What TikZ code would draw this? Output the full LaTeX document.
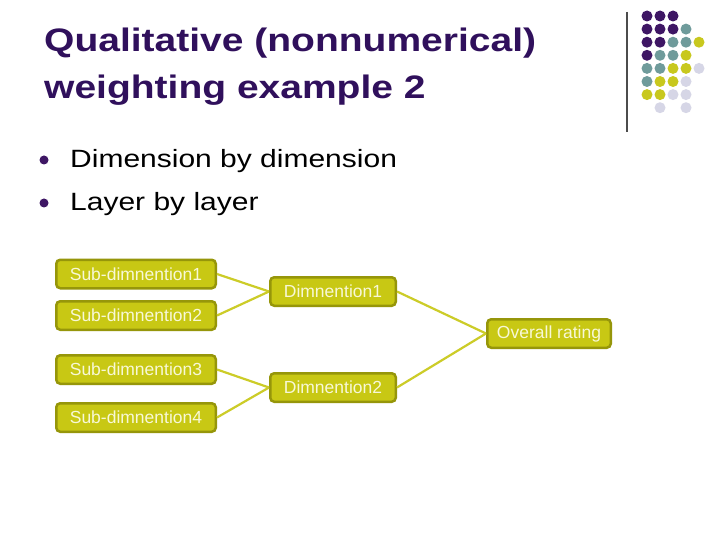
\documentclass[tikz,border=0pt]{standalone}
\usepackage{fontspec}
\setmainfont{Liberation Sans}
\newfontfamily\widefont{Liberation Sans}[FakeStretch=1.2]
\definecolor{ttlpurple}{RGB}{48,16,92}
\definecolor{dpurple}{RGB}{62,22,100}
\definecolor{dteal}{RGB}{111,155,155}
\definecolor{dyellow}{RGB}{200,200,30}
\definecolor{dlav}{RGB}{214,214,230}
\definecolor{boxfill}{RGB}{200,200,20}
\definecolor{boxedge}{RGB}{150,150,10}
\definecolor{boxtext}{RGB}{248,248,215}
\definecolor{linkcol}{RGB}{204,204,40}
\begin{document}
\begin{tikzpicture}[x=1pt,y=-1pt,
  box/.style={draw=boxedge, fill=boxfill, line width=2.5pt, rounded corners=4pt,
    inner sep=0pt, minimum height=28.5pt, text=boxtext,
    font=\fontsize{17.5}{18}\selectfont},
  subbox/.style={box, minimum width=159.5pt},
  dimbox/.style={box, minimum width=125.5pt},
  ovbox/.style={box, minimum width=123.5pt},
  link/.style={draw=linkcol, line width=2.2pt},
  gdot/.style={circle, inner sep=0pt, minimum size=11pt},
  title/.style={anchor=base west, inner sep=0pt, text=ttlpurple,
    font=\widefont\bfseries\fontsize{32.5}{36}\selectfont},
  btext/.style={anchor=base west, inner sep=0pt, text=black,
    font=\widefont\fontsize{25}{28}\selectfont},
  bdot/.style={circle, fill=dpurple, inner sep=0pt, minimum size=9pt}]
\useasboundingbox[fill=white] (0,0) rectangle (720,540);

% title
\node[title] (t1) at (44,52) {Qualitative (nonnumerical)};
\node[title] (t2) at (44,99) {weighting example 2};

% bullets
\node[bdot] (b1) at (44,160) {};
\node[btext] (bt1) at (70,168) {Dimension by dimension};
\node[bdot] (b2) at (44,203) {};
\node[btext] (bt2) at (70,211) {Layer by layer};

% decoration: vertical rule and dot grid
\draw[line width=1.2pt, black!70] (627,12) coordinate (r1) -- (627,132) coordinate (r2);
\foreach \r/\c/\col in {
  0/0/dpurple,0/1/dpurple,0/2/dpurple,
  1/0/dpurple,1/1/dpurple,1/2/dpurple,1/3/dteal,
  2/0/dpurple,2/1/dpurple,2/2/dteal,2/3/dteal,2/4/dyellow,
  3/0/dpurple,3/1/dteal,3/2/dteal,3/3/dyellow,
  4/0/dteal,4/1/dteal,4/2/dyellow,4/3/dyellow,4/4/dlav,
  5/0/dteal,5/1/dyellow,5/2/dyellow,5/3/dlav,
  6/0/dyellow,6/1/dyellow,6/2/dlav,6/3/dlav,
  7/1/dlav,7/3/dlav}
  \node[gdot, fill=\col] (g\r\c) at (647+13*\c, 16+13.1*\r) {};

% diagram
\node[subbox] (s1) at (136,274) {Sub-dimnention1};
\node[subbox] (s2) at (136,315.5) {Sub-dimnention2};
\node[subbox] (s3) at (136,369.5) {Sub-dimnention3};
\node[subbox] (s4) at (136,417.5) {Sub-dimnention4};
\node[dimbox] (d1) at (333,291.5) {Dimnention1};
\node[dimbox] (d2) at (333,387.5) {Dimnention2};
\node[ovbox] (ov) at (549,333.5) {Overall rating};

\draw[link] (s1.east) -- (d1.west);
\draw[link] (s2.east) -- (d1.west);
\draw[link] (s3.east) -- (d2.west);
\draw[link] (s4.east) -- (d2.west);
\draw[link] (d1.east) -- (ov.west);
\draw[link] (d2.east) -- (ov.west);
\end{tikzpicture}
\end{document}
